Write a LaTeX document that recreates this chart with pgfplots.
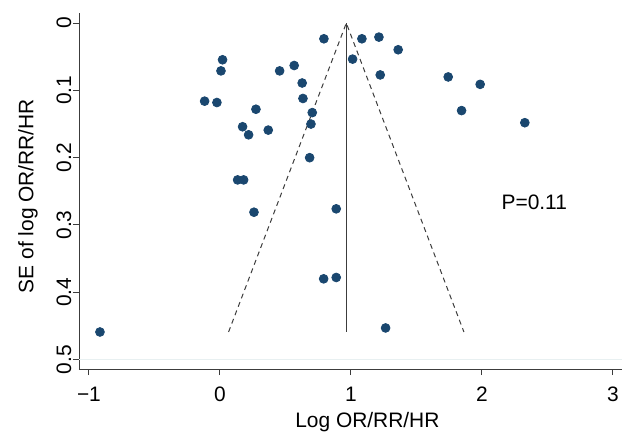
\documentclass[border=0pt]{standalone}
\usepackage{pgfplots}
\pgfplotsset{compat=1.18}
\usepackage{fontspec}
\setmainfont{Liberation Sans}
\definecolor{stblue}{RGB}{26,71,111}
\definecolor{gridc}{RGB}{232,240,241}
\definecolor{linec}{RGB}{60,60,60}

\begin{document}
\begin{tikzpicture}[lab/.style={font=\fontsize{10.5}{12}\selectfont}]
\begin{axis}[
    width=271.5bp, height=178bp, scale only axis,
    xmin=-1.076, xmax=3.07,
    ymin=-0.015, ymax=0.514,
    y dir=reverse,
    axis x line*=bottom, axis y line*=left,
    axis line style={linec, line width=0.5bp},
    every tick/.style={linec, line width=0.5bp},
    tick align=outside, major tick length=3bp,
    xtick={-1,0,1,2,3},
    xticklabels={−1,0,1,2,3},
    ytick={0,0.1,0.2,0.3,0.4,0.5},
    yticklabels={0,0.1,0.2,0.3,0.4,0.5},
    xticklabel style={anchor=center, yshift=-9.6bp},
    yticklabel style={anchor=center, xshift=-4.5bp, rotate=90},
    tick label style={font=\fontsize{10.5}{12}\selectfont},
    clip=false,
    ]
    % line at 0.5
    \addplot[gridc, line width=0.6bp] coordinates {(-1.076,0.5) (3.07,0.5)};
    % pseudo 95% limits
    \addplot[linec, line width=0.5bp, dash pattern=on 2.5bp off 2bp] coordinates {(0.066,0.459) (0.965,0) (1.863,0.459)};
    % pooled estimate
    \addplot[linec, line width=0.6bp] coordinates {(0.965,0) (0.965,0.459)};

    \addplot[only marks, mark=*, mark size=2.2bp, stblue, mark options={draw=stblue, fill=stblue}] coordinates {
    (0.020,0.0545)
    (0.008,0.071)
    (-0.117,0.116)
    (-0.023,0.118)
    (0.275,0.128)
    (0.173,0.154)
    (0.219,0.166)
    (0.369,0.159)
    (0.456,0.071)
    (0.567,0.063)
    (0.628,0.089)
    (0.634,0.112)
    (0.705,0.133)
    (0.695,0.150)
    (0.685,0.200)
    (0.135,0.233)
    (0.181,0.233)
    (0.260,0.281)
    (-0.916,0.459)
    (0.794,0.0233)
    (1.084,0.0233)
    (1.214,0.0208)
    (1.361,0.0396)
    (1.013,0.0535)
    (1.224,0.077)
    (1.743,0.080)
    (1.987,0.091)
    (1.845,0.130)
    (2.328,0.148)
    (0.888,0.276)
    (0.792,0.380)
    (0.888,0.378)
    (1.265,0.453)
    };
    \node[lab] at (axis cs:2.40,0.267) {P=0.11};
    \node[lab] at ([yshift=-26.35bp]axis cs:1.126,0.514) {Log OR/RR/HR};
    \node[lab, rotate=90] at ([xshift=-25.5bp]axis cs:-1.076,0.257) {SE of log OR/RR/HR};
    \coordinate (bl) at (axis cs:-1.076,0.514);
    \coordinate (tr) at (axis cs:3.07,-0.015);
\end{axis}
\pgfresetboundingbox
\path[use as bounding box] ([xshift=-39.5bp,yshift=-32bp]bl) rectangle ([xshift=5bp,yshift=6.5bp]tr);
\end{tikzpicture}
\end{document}
